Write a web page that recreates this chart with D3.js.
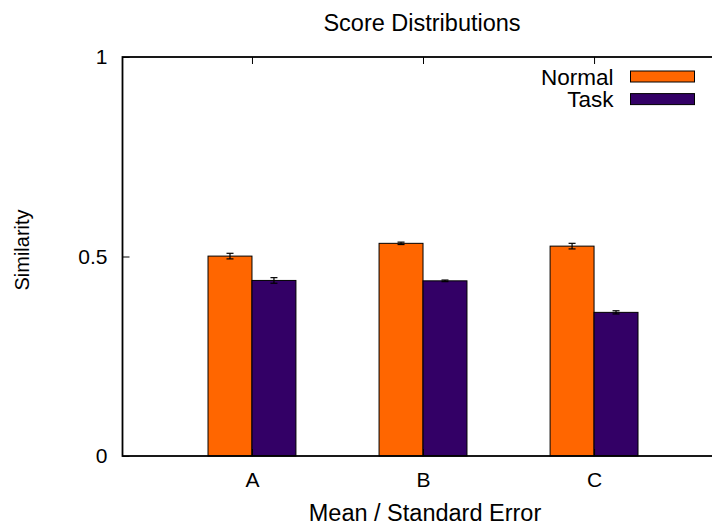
<!DOCTYPE html>
<html>
<head>
<meta charset="utf-8">
<script src="https://cdn.jsdelivr.net/npm/d3@7"></script>
<style>
  body { margin: 0; background: #fff; }
  svg text { font-family: "Liberation Sans", Arial, sans-serif; fill: #000; }
</style>
</head>
<body>
<div id="chart"></div>
<script>
// data
const categories = ["A", "B", "C"];
const seriesNames = ["Normal", "Task"];
const normalMean = [0.501, 0.533, 0.526];
const normalErr = [0.007, 0.003, 0.007];
const taskMean = [0.440, 0.439, 0.360];
const taskErr = [0.007, 0.002, 0.004];
const yTicks = [0, 0.5, 1];
const colors = ["#ff6600", "#330066"];

const width = 712, height = 527;
const margin = {top: 57, right: -4, bottom: 71, left: 122.5};
const plotW = width - margin.left - margin.right;
const plotH = height - margin.top - margin.bottom;

var svg = d3.select("#chart")
  .append("svg")
    .attr("width", width)
    .attr("height", height);

var g = svg.append("g")
  .attr("transform", "translate(" + margin.left + "," + margin.top + ")");

// categories sit at 0, 1, 2
var x = d3.scaleLinear()
  .domain([-0.757, 2.713])
  .range([0, plotW]);

var y = d3.scaleLinear()
  .domain([0, 1])
  .range([plotH, 0]);

const barW = 0.257;
const tickLen = 7;

function drawSeries(means, errs, idx) {
  var data = categories.map(function(c, i) {
    return {i: i, m: means[i], e: errs[i]};
  });
  var offset = idx == 0 ? -barW : 0;

  g.append("g")
    .selectAll("rect")
    .data(data)
    .enter()
    .append("rect")
      .attr("x", function(d) { return x(d.i + offset); })
      .attr("y", function(d) { return y(d.m); })
      .attr("width", function(d) { return x(barW) - x(0); })
      .attr("height", function(d) { return y(0) - y(d.m); })
      .attr("fill", colors[idx])
      .attr("stroke", "#000")
      .attr("stroke-width", 1);

  var eg = g.append("g")
    .selectAll("g")
    .data(data)
    .enter()
    .append("g")
      .attr("stroke", "#000")
      .attr("stroke-width", 1.2);
  var cx = function(d) { return x(d.i + offset + barW / 2); };
  eg.append("line")
    .attr("x1", cx).attr("x2", cx)
    .attr("y1", function(d) { return y(d.m - d.e); })
    .attr("y2", function(d) { return y(d.m + d.e); });
  eg.append("line")
    .attr("x1", function(d) { return cx(d) - 3.5; })
    .attr("x2", function(d) { return cx(d) + 3.5; })
    .attr("y1", function(d) { return y(d.m + d.e); })
    .attr("y2", function(d) { return y(d.m + d.e); });
  eg.append("line")
    .attr("x1", function(d) { return cx(d) - 3.5; })
    .attr("x2", function(d) { return cx(d) + 3.5; })
    .attr("y1", function(d) { return y(d.m - d.e); })
    .attr("y2", function(d) { return y(d.m - d.e); });
}

drawSeries(normalMean, normalErr, 0);
drawSeries(taskMean, taskErr, 1);

// axes (gnuplot style, ticks pointing in)
var yAxis = g.append("g")
  .call(d3.axisLeft(y).tickValues(yTicks).tickFormat(d3.format("")).tickSize(-tickLen).tickPadding(15));
yAxis.select(".domain").remove();
yAxis.selectAll("text").attr("font-size", 21).attr("font-family", "Liberation Sans, Arial, sans-serif");
yAxis.selectAll("line").attr("stroke", "#000");

var xAxis = g.append("g")
  .attr("transform", "translate(0," + plotH + ")")
  .call(d3.axisBottom(x).tickValues([0, 1, 2]).tickFormat(function(d) { return categories[d]; }).tickSize(-tickLen).tickPadding(16));
xAxis.select(".domain").remove();
xAxis.selectAll("text").attr("font-size", 21).attr("font-family", "Liberation Sans, Arial, sans-serif");
xAxis.selectAll("line").attr("stroke", "#000");

// mirrored ticks on top
var topAxis = g.append("g")
  .call(d3.axisTop(x).tickValues([0, 1, 2]).tickFormat("").tickSize(-tickLen));
topAxis.select(".domain").remove();
topAxis.selectAll("line").attr("stroke", "#000");

// frame
g.append("rect")
  .attr("x", 0)
  .attr("y", 0)
  .attr("width", plotW)
  .attr("height", plotH)
  .attr("fill", "none")
  .attr("stroke", "#000")
  .attr("stroke-width", 1.8);

// legend
var legend = g.append("g");
seriesNames.forEach(function(name, i) {
  var ly = 19.5 + i * 22.6;
  legend.append("text")
    .attr("x", 491)
    .attr("y", ly)
    .attr("dy", "0.36em")
    .attr("text-anchor", "end")
    .attr("font-size", 22.5)
    .text(name);
  legend.append("rect")
    .attr("x", 508)
    .attr("y", ly - 5.5)
    .attr("width", 64)
    .attr("height", 11)
    .attr("fill", colors[i])
    .attr("stroke", "#000")
    .attr("stroke-width", 1);
});

// titles
svg.append("text")
  .attr("x", 422)
  .attr("y", 31)
  .attr("text-anchor", "middle")
  .attr("font-size", 23.5)
  .text("Score Distributions");

svg.append("text")
  .attr("x", 425)
  .attr("y", 521)
  .attr("text-anchor", "middle")
  .attr("font-size", 23.5)
  .text("Mean / Standard Error");

svg.append("text")
  .attr("transform", "translate(29,250) rotate(-90)")
  .attr("text-anchor", "middle")
  .attr("font-size", 20)
  .text("Similarity");
</script>
</body>
</html>
